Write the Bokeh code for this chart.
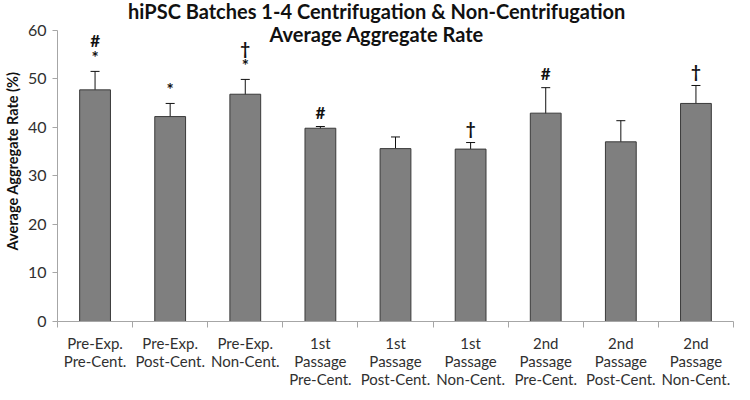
import numpy as np
from bokeh.plotting import figure
from bokeh.models import (ColumnDataSource, Range1d, FixedTicker, Whisker, TeeHead, Label)
from bokeh.core.properties import value
from bokeh.embed import file_html
from bokeh.resources import INLINE

categories = ["Pre-Exp.\nPre-Cent.", "Pre-Exp.\nPost-Cent.", "Pre-Exp.\nNon-Cent.",
              "1st\nPassage\nPre-Cent.", "1st\nPassage\nPost-Cent.", "1st\nPassage\nNon-Cent.",
              "2nd\nPassage\nPre-Cent.", "2nd\nPassage\nPost-Cent.", "2nd\nPassage\nNon-Cent."]
means = [47.7, 42.2, 46.8, 39.8, 35.6, 35.5, 42.9, 37.0, 44.9]
errors = [3.8, 2.7, 3.05, 0.35, 2.4, 1.35, 5.25, 4.35, 3.7]
marks_first = ["*", "*", "*", "#", "", "†", "#", "", "†"]
marks_second = ["#", "", "†", "", "", "", "", "", ""]
y_ticks = [0, 10, 20, 30, 40, 50, 60]
title_lines = ["hiPSC Batches 1-4 Centrifugation & Non-Centrifugation", "Average Aggregate Rate"]
y_label = "Average Aggregate Rate (%)"

n = len(categories)
xs = np.arange(n) + 0.5
m = np.array(means)
e = np.array(errors)
src = ColumnDataSource(dict(x=xs, top=m, upper=m + e, lower=m - e,
                            m1=marks_first, m2=marks_second))

FONT = "Lato"
AXIS_COLOR = "#a6a6a6"
TEXT_COLOR = "#303030"
Y_TOP = 66.1  # extra headroom above the axis for the title

p = figure(width=734, height=390, output_backend="svg", toolbar_location=None,
           x_range=Range1d(0, n), y_range=Range1d(0, Y_TOP),
           min_border_left=44, min_border_right=1, min_border_top=0, min_border_bottom=2)
p.outline_line_color = None
p.xgrid.visible = False
p.ygrid.visible = False
p.background_fill_color = "white"
p.border_fill_color = "white"

p.vbar(x="x", top="top", width=0.41, bottom=0, source=src,
       fill_color="#7f7f7f", line_color="#3a3a3a", line_width=1)

w = Whisker(base="x", upper="upper", lower="lower", source=src,
            line_color="#111111", line_width=1,
            upper_head=TeeHead(size=9, line_color="#111111", line_width=1),
            lower_head=TeeHead(size=9, line_color="#111111", line_width=1))
p.add_layout(w)

p.text(x="x", y="upper", text="m1", source=src, y_offset=-14,
       text_align="center", text_baseline="middle",
       text_font=value(FONT), text_font_style="bold", text_font_size="17px", text_color="#111111")
p.text(x="x", y="upper", text="m2", source=src, y_offset=-31,
       text_align="center", text_baseline="middle",
       text_font=value(FONT), text_font_style="bold", text_font_size="17px", text_color="#111111")

# title (two centred lines)
title_x = 4.25
for txt, yv in zip(title_lines, [63.9, 59.2]):
    p.add_layout(Label(x=title_x, y=yv, text=txt, text_align="center", text_baseline="middle",
                       text_font=FONT, text_font_style="bold", text_font_size="20px",
                       text_color="#111111"))

# x axis
xa = p.xaxis[0]
xa.ticker = FixedTicker(ticks=list(xs), minor_ticks=list(np.arange(n + 1)))
xa.major_label_overrides = {float(x): c for x, c in zip(xs, categories)}
xa.major_tick_line_color = None
xa.major_tick_out = 0
xa.major_tick_in = 0
xa.minor_tick_line_color = AXIS_COLOR
xa.minor_tick_out = 6
xa.minor_tick_in = 0
xa.axis_line_color = AXIS_COLOR
xa.major_label_text_font = FONT
xa.major_label_text_font_size = "15px"
xa.major_label_text_line_height = 1.0
xa.major_label_text_color = TEXT_COLOR
xa.major_label_standoff = 6

# y axis
ya = p.yaxis[0]
ya.bounds = (0, 60)
ya.ticker = FixedTicker(ticks=y_ticks)
ya.axis_line_color = AXIS_COLOR
ya.major_tick_line_color = AXIS_COLOR
ya.major_tick_out = 5
ya.major_tick_in = 0
ya.minor_tick_line_color = None
ya.major_label_text_font = FONT
ya.major_label_text_font_size = "16px"
ya.major_label_text_color = TEXT_COLOR
ya.major_label_standoff = 6
ya.axis_label = y_label
ya.axis_label_text_font = FONT
ya.axis_label_text_font_style = "bold"
ya.axis_label_text_font_size = "14.5px"
ya.axis_label_text_color = "#111111"
ya.axis_label_standoff = 4

open("out.html", "w").write(file_html(p, INLINE))
